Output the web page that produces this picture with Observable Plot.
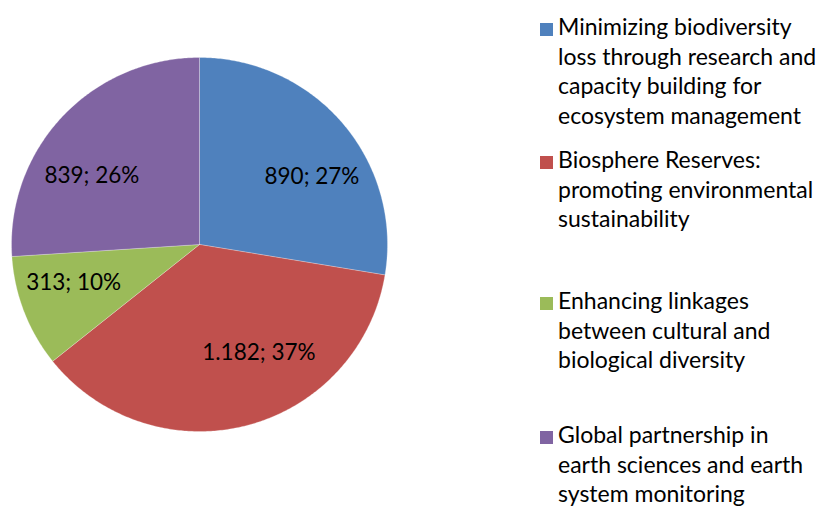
<!DOCTYPE html>
<html>
<head>
<meta charset="utf-8">
<script src="https://cdn.jsdelivr.net/npm/d3@7"></script>
<script src="https://cdn.jsdelivr.net/npm/@observablehq/plot@0.6"></script>
<style>
  html, body { margin: 0; padding: 0; background: #fff; }
  #wrap { position: relative; width: 824px; height: 508px; overflow: hidden; }
  #legend { position: absolute; left: 0; top: 0; width: 824px; height: 508px; font-family: Lato, "Open Sans", sans-serif; color: #000; }
  .item { position: absolute; left: 540px; }
  .sw { position: absolute; left: 0; width: 13px; height: 13px; }
  .txt { position: absolute; left: 18px; white-space: nowrap; font-size: 23px; line-height: 29.7px; }
</style>
</head>
<body>
<div id="wrap"><div id="chart"></div><div id="legend"></div></div>
<script>
// ---- data ----
const categories = [
  "Minimizing biodiversity loss through research and capacity building for ecosystem management",
  "Biosphere Reserves: promoting environmental sustainability",
  "Enhancing linkages between cultural and biological diversity",
  "Global partnership in earth sciences and earth system monitoring"
];
const values = [890, 1182, 313, 839];
const valueLabels = ["890; 27%", "1.182; 37%", "313; 10%", "839; 26%"];
const legendLines = [
  ["Minimizing biodiversity", "loss through research and", "capacity building for", "ecosystem management"],
  ["Biosphere Reserves:", "promoting environmental", "sustainability"],
  ["Enhancing linkages", "between cultural and", "biological diversity"],
  ["Global partnership in", "earth sciences and earth", "system monitoring"]
];
const colors = ["#4F81BD", "#C0504D", "#9BBB59", "#8064A2"];

// ---- layout ----
const cx = 199, cy = 244, rx = 188, ry = 187;
// label placement: [angle in degrees clockwise from top, radius fraction]
const labelAt = [[58.7, 0.70], [151.4, 0.66], [253, 0.70], [302.7, 0.68]];
const legendTop = [12, 145, 286, 420];

const pie = d3.pie().sort(null).value(d => d)(values);
const rows = [];
pie.forEach((p, i) => {
  const cat = categories[i];
  rows.push({cat, x: 0, y: 0});
  const n = Math.max(8, Math.ceil((p.endAngle - p.startAngle) / 0.01));
  for (let k = 0; k <= n; k++) {
    const a = p.startAngle + (p.endAngle - p.startAngle) * k / n;
    rows.push({cat, x: Math.sin(a), y: Math.cos(a)});
  }
  rows.push({cat, x: 0, y: 0});
});
const labelRows = valueLabels.map((t, i) => {
  const a = labelAt[i][0] * Math.PI / 180, r = labelAt[i][1];
  return {t, x: r * Math.sin(a), y: r * Math.cos(a)};
});

const chart = Plot.plot({
  width: 824,
  height: 508,
  margin: 0,
  style: {background: "white", fontFamily: "Lato, 'Open Sans', sans-serif"},
  x: {domain: [-1, 1], range: [cx - rx, cx + rx], axis: null},
  y: {domain: [-1, 1], range: [cy + ry, cy - ry], axis: null},
  color: {domain: categories, range: colors},
  marks: [
    Plot.line(rows, {x: "x", y: "y", z: "cat", fill: "cat", stroke: "white", strokeOpacity: 0.35, strokeWidth: 0.75}),
    Plot.text(labelRows, {x: "x", y: "y", text: "t", fill: "black", fontSize: 22.5, textAnchor: "middle"})
  ]
});
document.getElementById("chart").appendChild(chart);

const legend = document.getElementById("legend");
legendLines.forEach((lines, i) => {
  const item = document.createElement("div");
  item.className = "item";
  item.style.top = legendTop[i] + "px";
  const sw = document.createElement("div");
  sw.className = "sw";
  sw.style.top = "11px";
  sw.style.background = colors[i];
  const txt = document.createElement("div");
  txt.className = "txt";
  txt.innerHTML = lines.join("<br>");
  item.appendChild(sw);
  item.appendChild(txt);
  legend.appendChild(item);
});
</script>
</body>
</html>
